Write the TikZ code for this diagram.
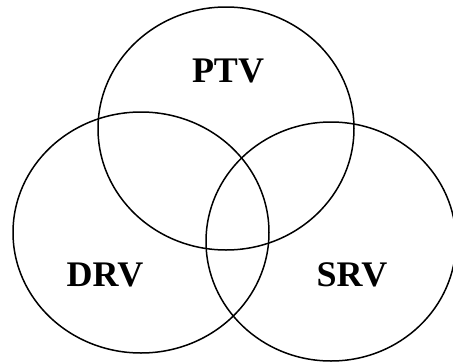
\documentclass[tikz,border=0pt]{standalone}
\usepackage{fontspec}
\setmainfont{Liberation Serif}
\usepackage{tikz}

\begin{document}
\begin{tikzpicture}[x=1pt,y=-1pt,line width=1.5pt]
\tikzset{setname/.style={font=\fontsize{36}{40}\selectfont\bfseries}}
\useasboundingbox (0,0) rectangle (453,362);
\draw (226,128.5) ellipse (128 and 121.5);
\draw (141,232.5) ellipse (128 and 120.5);
\draw (331,241.5) ellipse (125 and 119.5);
\node[setname] (ptv) at (228,71){PTV};
\node[setname] (drv) at (105,274.5){DRV};
\node[setname] (srv) at (352,274.5){SRV};
\end{tikzpicture}
\end{document}
